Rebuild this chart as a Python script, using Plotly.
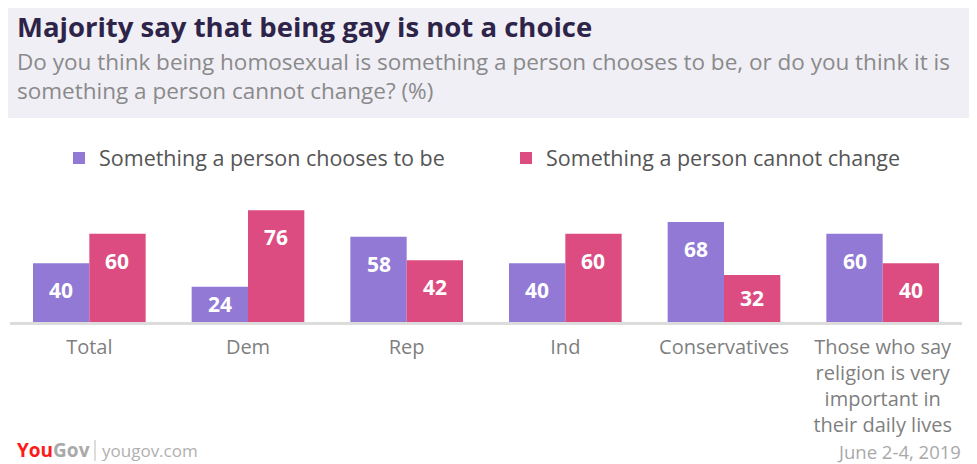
import plotly.graph_objects as go

categories = ["Total", "Dem", "Rep", "Ind", "Conservatives",
              "Those who say<br>religion is very<br>important in<br>their daily lives"]
chooses = [40, 24, 58, 40, 68, 60]
cannot_change = [60, 76, 42, 60, 32, 40]
series_names = ["Something a person chooses to be", "Something a person cannot change"]
colors = ["#9179D5", "#DC4C80"]

# page has an 8px body margin; lay out in page pixel coordinates
OFF = 8
W, H = 977 - OFF, 464 - OFF
L, R, T, B = 2, 15, 167, 142
PW, PH = W - L - R, H - T - B


def px(xp):
    return (xp - OFF - L) / PW


def py(yp):
    return (H - B - (yp - OFF)) / PH


FONT = "Open Sans"

fig = go.Figure()
for name, vals, col in zip(series_names, [chooses, cannot_change], colors):
    fig.add_trace(go.Bar(x=categories, y=vals, name=name, marker_color=col,
                         marker_line_width=0, hoverinfo="skip"))

# value labels
for k, vals in enumerate([chooses, cannot_change]):
    shift = (-1 if k == 0 else 1) * PW / 6 * 0.71 / 4
    for c, v in zip(categories, vals):
        ly = max(v - 18.5, v / 2)
        fig.add_annotation(x=c, y=ly, xref="x", yref="y", text=f"<b>{v}</b>",
                           showarrow=False, xshift=shift, yanchor="middle",
                           font=dict(family=FONT, size=21, color="white"))

# header background
fig.add_shape(type="rect", xref="paper", yref="paper", layer="below",
              x0=px(2), x1=px(975), y0=py(118), y1=py(2),
              fillcolor="#F0EFF5", line_width=0)

fig.add_annotation(xref="paper", yref="paper", x=px(15), y=py(26), xanchor="left", yanchor="middle",
                   text="<b>Majority say that being gay is not a choice</b>", showarrow=False,
                   font=dict(family=FONT, size=27.5, color="#2E2449"))
fig.add_annotation(xref="paper", yref="paper", x=px(15), y=py(76), xanchor="left", yanchor="middle",
                   text="Do you think being homosexual is something a person chooses to be, or do you think it is<br>something a person cannot change? (%)",
                   showarrow=False, align="left",
                   font=dict(family=FONT, size=22.5, color="#8A8A8A"))

# footer
fig.add_annotation(xref="paper", yref="paper", x=px(15), y=py(450), xanchor="left", yanchor="middle",
                   text="<b><span style='color:#FF1A1A'>You</span><span style='color:#A9A9A9'>Gov</span></b>",
                   showarrow=False, font=dict(family=FONT, size=19, color="#A9A9A9"))
fig.add_shape(type="line", xref="paper", yref="paper", x0=px(95), x1=px(95), y0=py(461), y1=py(440),
              line=dict(color="#BBBBBB", width=1))
fig.add_annotation(xref="paper", yref="paper", x=px(100), y=py(450), xanchor="left", yanchor="middle",
                   text="yougov.com", showarrow=False,
                   font=dict(family=FONT, size=17, color="#B0B0B0"))
fig.add_annotation(xref="paper", yref="paper", x=px(963), y=py(451), xanchor="right", yanchor="middle",
                   text="June 2-4, 2019", showarrow=False,
                   font=dict(family=FONT, size=18.5, color="#A9A9A9"))

fig.update_layout(
    width=W, height=H,
    margin=dict(l=L, r=R, t=T, b=B),
    paper_bgcolor="white", plot_bgcolor="white",
    barmode="group", bargap=0.29, bargroupgap=0,
    font=dict(family=FONT),
    showlegend=True,
    legend=dict(orientation="h", x=px(59), y=py(158), xanchor="left", yanchor="middle",
                font=dict(family=FONT, size=21.5, color="#555555"),
                itemwidth=30, traceorder="normal", entrywidth=402, entrywidthmode="pixels"),
    xaxis=dict(showline=True, linecolor="#DCDCDC", linewidth=3, showgrid=False,
               tickfont=dict(family=FONT, size=20, color="#7F7F7F"), ticks="",
               ticklabelstandoff=5, fixedrange=True),
    yaxis=dict(range=[0, 100], visible=False, showgrid=False, fixedrange=True),
)

fig.write_html("out.html")
